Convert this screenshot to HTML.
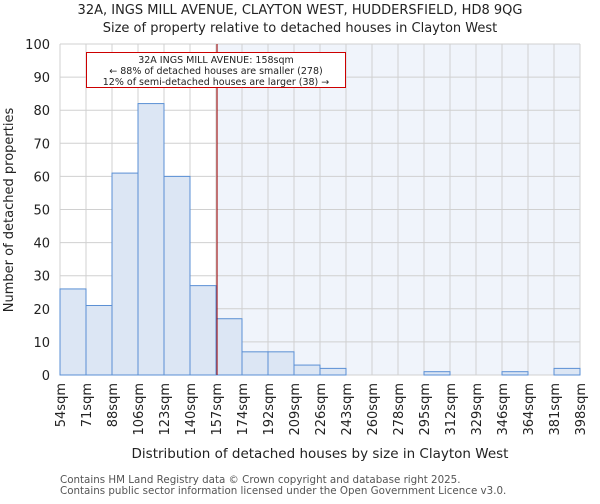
<!DOCTYPE html>
<html><head><meta charset="utf-8"><style>
body{margin:0;background:#fff;font-family:"DejaVu Sans","Liberation Sans",sans-serif;}
svg text{font-family:"DejaVu Sans","Liberation Sans",sans-serif;fill:#222;}
</style></head><body>
<svg id="chart" width="600" height="500">
<text x="300" y="14" text-anchor="middle" font-size="13">32A, INGS MILL AVENUE, CLAYTON WEST, HUDDERSFIELD, HD8 9QG</text>
<text x="300" y="32" text-anchor="middle" font-size="13">Size of property relative to detached houses in Clayton West</text>
<g id="plot"></g>
<text x="320" y="458" text-anchor="middle" font-size="13.5">Distribution of detached houses by size in Clayton West</text>
<text transform="translate(13,210) rotate(-90)" text-anchor="middle" font-size="13">Number of detached properties</text>
<text x="60" y="483" font-size="10.3" style="fill:#555">Contains HM Land Registry data © Crown copyright and database right 2025.</text>
<text x="60" y="494" font-size="10.3" style="fill:#555">Contains public sector information licensed under the Open Government Licence v3.0.</text>
</svg>
<script>
const categories=["54sqm","71sqm","88sqm","106sqm","123sqm","140sqm","157sqm","174sqm","192sqm","209sqm","226sqm","243sqm","260sqm","278sqm","295sqm","312sqm","329sqm","346sqm","364sqm","381sqm","398sqm"];
const counts=[26,21,61,82,60,27,17,7,7,3,2,0,0,0,1,0,0,1,0,2];
const yTicks=[0,10,20,30,40,50,60,70,80,90,100];
const markerBin=6.04;
const NS="http://www.w3.org/2000/svg";
const L=60,R=580,T=44,B=375,yMax=100;
const nb=counts.length,bw=(R-L)/nb;
const xs=i=>L+i*bw, ys=v=>B-v/yMax*(B-T);
const g=document.getElementById('plot');
function mk(t,a){const e=document.createElementNS(NS,t);for(const k in a)e.setAttribute(k,a[k]);g.appendChild(e);return e;}
const mx=xs(markerBin);
let e=mk('rect',{x:mx,y:T,width:R-mx,height:B-T,fill:'#f0f4fb'});


yTicks.forEach(v=>{let l=mk('line',{x1:L,x2:R,y1:ys(v),y2:ys(v),stroke:'#d0d0d0','stroke-width':1});


let t=mk('text',{x:L-10,y:ys(v)+5,'text-anchor':'end','font-size':13});t.textContent=v;

});
categories.forEach((c,i)=>{let l=mk('line',{x1:xs(i),x2:xs(i),y1:T,y2:B,stroke:'#d0d0d0','stroke-width':1});


let t=mk('text',{transform:`translate(${xs(i)+5},${B+8}) rotate(-90)`,'text-anchor':'end','font-size':13});t.textContent=c;

});
counts.forEach((v,i)=>{if(v<=0)return;let r=mk('rect',{x:xs(i),y:ys(v),width:bw,height:B-ys(v),fill:'#dce6f4',stroke:'#5a8fd4','stroke-width':1});

});
e=mk('line',{x1:mx,x2:mx,y1:T,y2:B,stroke:'#a00000','stroke-width':1});


e=mk('rect',{x:86.5,y:52.5,width:259,height:35,fill:'#fff',stroke:'#cc0000','stroke-width':1});


[["32A INGS MILL AVENUE: 158sqm",63],["← 88% of detached houses are smaller (278)",74],["12% of semi-detached houses are larger (38) →",85]].forEach(([s,y])=>{let t=mk('text',{x:216,y:y,'text-anchor':'middle','font-size':9.5});t.textContent=s;

});
</script>
</body></html>
